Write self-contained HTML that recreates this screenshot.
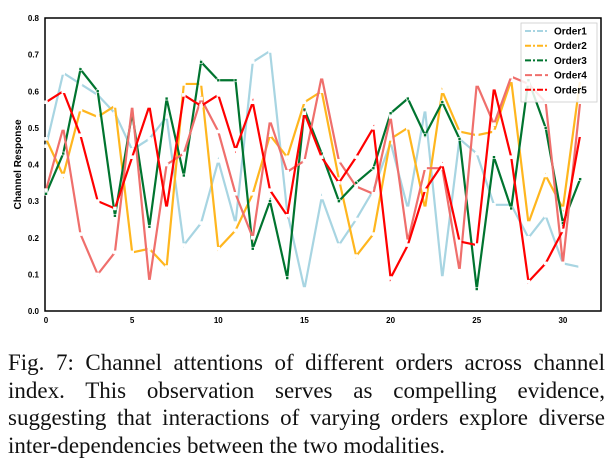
<!DOCTYPE html>
<html><head><meta charset="utf-8"><style>
body{margin:0;width:612px;height:463px;background:#fff;overflow:hidden}
#cap{position:absolute;left:8px;top:349px;width:597px;font:23px/27.5px "Liberation Serif",serif;text-align:justify;text-align-last:left;color:#111}
</style></head><body>
<svg id="chart" width="612" height="340" style="position:absolute;left:0;top:0" font-family="Liberation Sans, sans-serif"></svg>
<div id="cap">Fig. 7: Channel attentions of different orders across channel index. This observation serves as compelling evidence, suggesting that interactions of varying orders explore diverse inter-dependencies between the two modalities.</div>
<script>
const xTicks=[0,5,10,15,20,25,30];
const yTicks=[0,0.1,0.2,0.3,0.4,0.5,0.6,0.7,0.8];
const seriesNames=["Order1","Order2","Order3","Order4","Order5"];
const order1=[0.45,0.65,0.62,0.59,0.54,0.44,0.47,0.53,0.18,0.24,0.41,0.24,0.68,0.71,0.27,0.06,0.31,0.18,0.25,0.33,0.46,0.28,0.55,0.09,0.47,0.43,0.29,0.29,0.20,0.26,0.13,0.12];
const order2=[0.47,0.37,0.55,0.53,0.56,0.16,0.17,0.12,0.62,0.62,0.17,0.22,0.32,0.48,0.42,0.57,0.60,0.36,0.15,0.21,0.47,0.50,0.28,0.60,0.49,0.48,0.49,0.63,0.24,0.37,0.28,0.63];
const order3=[0.32,0.43,0.66,0.60,0.26,0.54,0.23,0.58,0.37,0.68,0.63,0.63,0.17,0.30,0.09,0.55,0.43,0.30,0.35,0.39,0.54,0.58,0.48,0.57,0.47,0.06,0.42,0.28,0.63,0.50,0.24,0.36];
const order4=[0.33,0.50,0.21,0.10,0.16,0.56,0.08,0.40,0.43,0.58,0.49,0.32,0.20,0.52,0.38,0.41,0.64,0.41,0.34,0.32,0.53,0.19,0.39,0.39,0.11,0.62,0.51,0.64,0.62,0.57,0.13,0.57];
const order5=[0.57,0.60,0.48,0.30,0.28,0.42,0.56,0.28,0.59,0.56,0.59,0.44,0.57,0.33,0.26,0.54,0.42,0.35,0.42,0.50,0.09,0.18,0.33,0.40,0.19,0.18,0.61,0.42,0.08,0.13,0.22,0.48];
const colors=["#a8d5e2","#ffb61e","#00742f","#ef6f6c","#ff0000"];
const all=[order1,order2,order3,order4,order5];
const svg=document.getElementById('chart');
const NS="http://www.w3.org/2000/svg";
const L=45,R=601,T=18,B=311;
const xs=v=>46+v*17.23;
const ys=v=>B-(v/0.8)*(B-T);
function mk(tag,at,parent){const e=document.createElementNS(NS,tag);for(const k in at)e.setAttribute(k,at[k]);(parent||svg).appendChild(e);return e;}
const frame=mk('rect',{x:L,y:T,width:R-L,height:B-T,fill:'none',stroke:'#000','stroke-width':1.5});


xTicks.forEach(t=>{const tx=mk('text',{x:xs(t),y:B+12,'font-size':8,'font-weight':'bold','text-anchor':'middle'});tx.textContent=t;

});
yTicks.forEach(t=>{const tx=mk('text',{x:L-6,y:ys(t)+3,'font-size':8,'font-weight':'bold','text-anchor':'end'});tx.textContent=t.toFixed(1);

});
const yl=mk('text',{x:21,y:(T+B)/2,'font-size':10,'font-weight':'bold','text-anchor':'middle',transform:`rotate(-90 21 ${(T+B)/2})`});yl.textContent='Channel Response';


all.forEach((d,i)=>{
 const pts=d.map((v,j)=>xs(j)+','+ys(v)).join(' ');
 const pl=mk('polyline',{points:pts,fill:'none',stroke:colors[i],'stroke-width':2.2,'stroke-linejoin':'miter'});
 
 
 d.forEach((v,j)=>{const c=mk('rect',{x:xs(j)-1.5,y:ys(v)-1.5,width:3,height:3,fill:i==2?'#00742f':'#fff',stroke:'#fff','stroke-width':0.6});
 
 });
});
const lg=mk('g',{});


mk('rect',{x:521,y:23,width:76,height:79,fill:'#fff','fill-opacity':0.85,stroke:'#ccc','stroke-width':0.8},lg);
seriesNames.forEach((n,i)=>{const y=31+i*14.7;
 const ln=mk('line',{x1:525,x2:548,y1:y,y2:y,stroke:colors[i],'stroke-width':2,'stroke-dasharray':i==3?'7,3':'6,2,2,2'},lg);
 
 
 const t=mk('text',{x:554,y:y+3.5,'font-size':10,'font-weight':'bold'},lg);t.textContent=n;
 
 });
</script>
</body></html>
